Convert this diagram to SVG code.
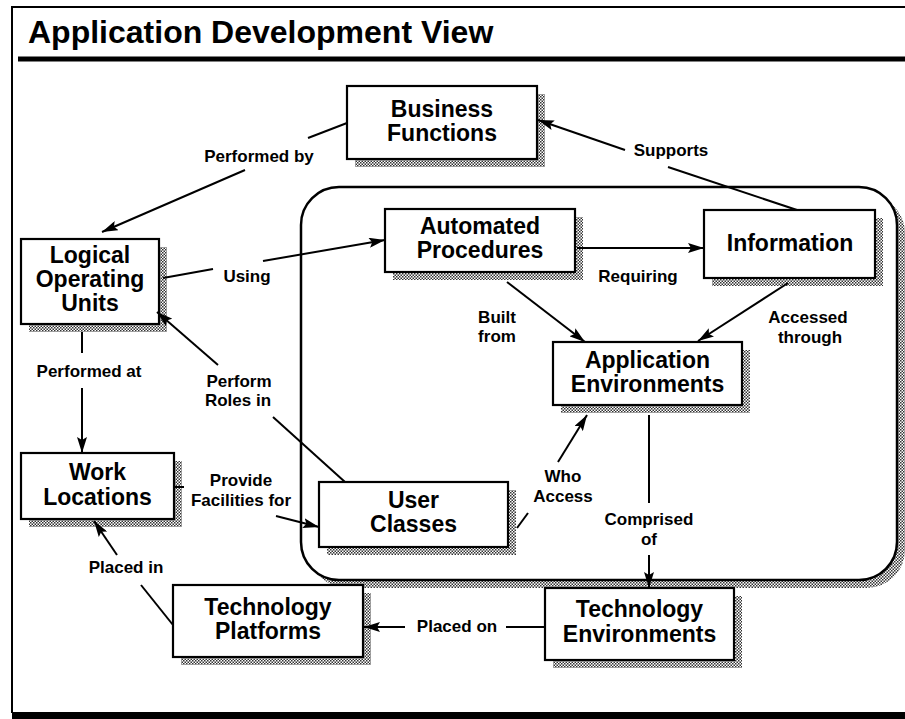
<svg xmlns="http://www.w3.org/2000/svg" width="905" height="719" viewBox="0 0 905 719">
<defs>
<pattern id="dots" width="3" height="3" patternUnits="userSpaceOnUse">
<rect width="3" height="3" fill="#fff"/>
<rect x="0" y="0" width="1.5" height="1.5" fill="#333"/>
<rect x="1.5" y="1.5" width="1.5" height="1.5" fill="#333"/>
</pattern>
<marker id="arr" viewBox="0 0 16 10" refX="16" refY="5" markerWidth="16" markerHeight="10" markerUnits="userSpaceOnUse" orient="auto">
<path d="M0,0 L16,5 L0,10 L3,5 z" fill="#000"/>
</marker>
<style>
.box{fill:#fff;stroke:#000;stroke-width:2.2}
.sh{fill:url(#dots)}
.nt{font-family:"Liberation Sans",Arial,sans-serif;font-weight:bold;font-size:23px;text-anchor:middle;fill:#000}
.lb{font-family:"Liberation Sans",Arial,sans-serif;font-weight:bold;font-size:17px;text-anchor:middle;fill:#000}
.c{stroke:#000;stroke-width:2;fill:none}
.a{stroke:#000;stroke-width:2;fill:none;marker-end:url(#arr)}
</style>
</defs>
<rect width="905" height="719" fill="#fff"/>
<g id="frame">
<line x1="12" y1="7" x2="905" y2="7" stroke="#000" stroke-width="2"/>
<line x1="12" y1="6" x2="12" y2="713" stroke="#000" stroke-width="2"/>
<rect x="18" y="56.5" width="887" height="5" fill="#000"/>
<rect x="12" y="712" width="893" height="7" fill="#000"/>
<text x="28" y="43" font-family="Liberation Sans,Arial,sans-serif" font-weight="bold" font-size="32">Application Development View</text>
</g>
<g id="container">
<rect class="sh" x="309" y="195" width="596" height="393" rx="38"/>
<rect x="301" y="187" width="596" height="393" rx="38" fill="#fff" stroke="#000" stroke-width="2.5"/>
</g>
<g id="business-functions">
<rect class="sh" x="355" y="94" width="190" height="73"/>
<rect class="box" x="347" y="86" width="190" height="73"/>
<text class="nt" x="442" y="117">Business</text>
<text class="nt" x="442" y="141">Functions</text>
</g>
<g id="logical-operating-units">
<rect class="sh" x="29" y="247" width="138" height="85"/>
<rect class="box" x="21" y="239" width="138" height="85"/>
<text class="nt" x="90" y="263">Logical</text>
<text class="nt" x="90" y="287">Operating</text>
<text class="nt" x="90" y="311">Units</text>
</g>
<g id="automated-procedures">
<rect class="sh" x="393" y="217" width="190" height="63"/>
<rect class="box" x="385" y="209" width="190" height="63"/>
<text class="nt" x="480" y="234">Automated</text>
<text class="nt" x="480" y="258">Procedures</text>
</g>
<g id="information">
<rect class="sh" x="712" y="218" width="171" height="68"/>
<rect class="box" x="704" y="210" width="171" height="68"/>
<text class="nt" x="790" y="251">Information</text>
</g>
<g id="application-environments">
<rect class="sh" x="561" y="350" width="189" height="63"/>
<rect class="box" x="553" y="342" width="189" height="63"/>
<text class="nt" x="647.5" y="368">Application</text>
<text class="nt" x="647.5" y="392">Environments</text>
</g>
<g id="work-locations">
<rect class="sh" x="29" y="461" width="153" height="66"/>
<rect class="box" x="21" y="453" width="153" height="66"/>
<text class="nt" x="97.5" y="480">Work</text>
<text class="nt" x="97.5" y="505">Locations</text>
</g>
<g id="user-classes">
<rect class="sh" x="327" y="490" width="189" height="65"/>
<rect class="box" x="319" y="482" width="189" height="65"/>
<text class="nt" x="413.5" y="508">User</text>
<text class="nt" x="413.5" y="532">Classes</text>
</g>
<g id="technology-platforms">
<rect class="sh" x="181" y="593" width="190" height="72"/>
<rect class="box" x="173" y="585" width="190" height="72"/>
<text class="nt" x="268" y="615">Technology</text>
<text class="nt" x="268" y="639">Platforms</text>
</g>
<g id="technology-environments">
<rect class="sh" x="553" y="596" width="189" height="72"/>
<rect class="box" x="545" y="588" width="189" height="72"/>
<text class="nt" x="639.5" y="617">Technology</text>
<text class="nt" x="639.5" y="642">Environments</text>
</g>
<g id="connectors">
<line class="c" x1="347" y1="123" x2="308" y2="138"/>
<line class="a" x1="245" y1="170" x2="102" y2="232"/>
<line class="c" x1="797" y1="210" x2="668" y2="167"/>
<line class="a" x1="625" y1="150" x2="538" y2="120"/>
<line class="c" x1="163" y1="278" x2="213" y2="269"/>
<line class="a" x1="263" y1="261" x2="385" y2="240"/>
<line class="a" x1="577" y1="248" x2="704" y2="248"/>
<line class="a" x1="507" y1="282" x2="585" y2="342"/>
<line class="a" x1="788" y1="283" x2="698" y2="341"/>
<line class="c" x1="82" y1="332" x2="82" y2="353"/>
<line class="a" x1="82" y1="388" x2="82" y2="453"/>
<line class="c" x1="345" y1="482" x2="273" y2="417"/>
<line class="a" x1="218" y1="365" x2="157" y2="312"/>
<line class="c" x1="174" y1="487" x2="184" y2="487"/>
<line class="a" x1="276" y1="516" x2="319" y2="527"/>
<line class="c" x1="517" y1="528" x2="528" y2="513"/>
<line class="a" x1="558" y1="462" x2="587" y2="415"/>
<line class="c" x1="649" y1="415" x2="649" y2="503"/>
<line class="a" x1="649" y1="555" x2="649" y2="588"/>
<line class="c" x1="545" y1="627" x2="506" y2="627"/>
<line class="a" x1="405" y1="627" x2="364" y2="627"/>
<line class="c" x1="173" y1="625" x2="141" y2="585"/>
<line class="a" x1="117" y1="555" x2="94" y2="521"/>
</g>
<g id="labels">
<text class="lb" x="259" y="162">Performed by</text>
<text class="lb" x="671" y="156">Supports</text>
<text class="lb" x="247" y="282">Using</text>
<text class="lb" x="638" y="282">Requiring</text>
<text class="lb" x="497" y="323">Built</text>
<text class="lb" x="497" y="342">from</text>
<text class="lb" x="808" y="323">Accessed</text>
<text class="lb" x="810" y="343">through</text>
<text class="lb" x="89" y="377">Performed at</text>
<text class="lb" x="239" y="387">Perform</text>
<text class="lb" x="238" y="406">Roles in</text>
<text class="lb" x="241" y="486">Provide</text>
<text class="lb" x="241" y="506">Facilities for</text>
<text class="lb" x="563" y="482">Who</text>
<text class="lb" x="563" y="502">Access</text>
<text class="lb" x="649" y="525">Comprised</text>
<text class="lb" x="649" y="545">of</text>
<text class="lb" x="457" y="632">Placed on</text>
<text class="lb" x="126" y="573">Placed in</text>
</g>
</svg>
